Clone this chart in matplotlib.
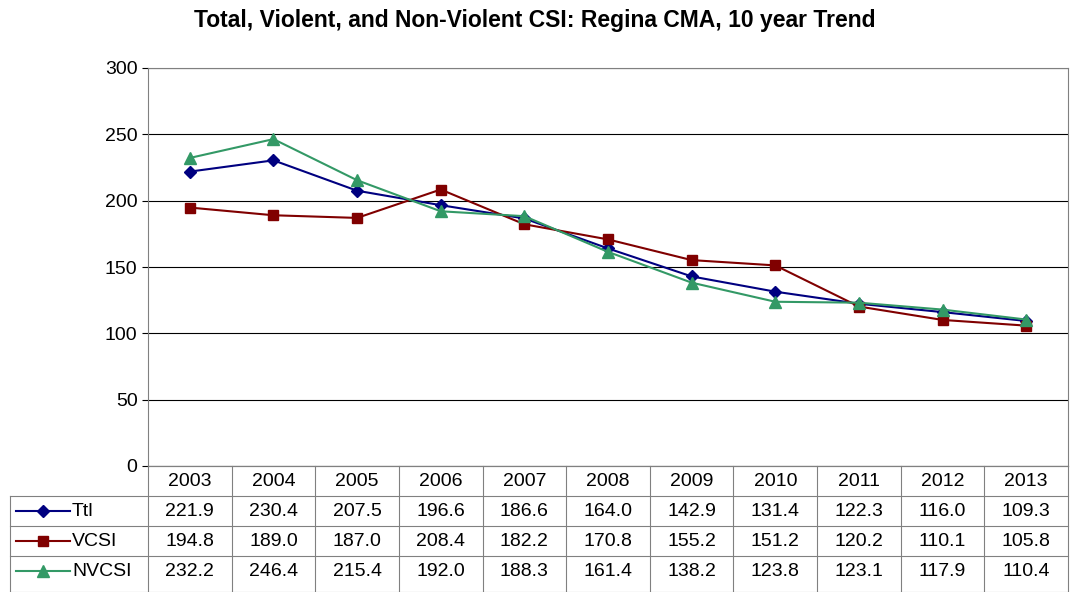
import matplotlib
matplotlib.use("Agg")
import matplotlib.pyplot as plt
from matplotlib.lines import Line2D

years = ["2003","2004","2005","2006","2007","2008","2009","2010","2011","2012","2013"]
ttl = [221.9,230.4,207.5,196.6,186.6,164.0,142.9,131.4,122.3,116.0,109.3]
vcsi = [194.8,189.0,187.0,208.4,182.2,170.8,155.2,151.2,120.2,110.1,105.8]
nvcsi = [232.2,246.4,215.4,192.0,188.3,161.4,138.2,123.8,123.1,117.9,110.4]
names = ["Ttl","VCSI","NVCSI"]
colors = ["#000080","#800000","#339966"]
markers = ["D","s","^"]
sizes = [6,7,8]

W,H = 1070,592
fig = plt.figure(figsize=(W/100,H/100),dpi=100)
plt.rcParams['font.family'] = ['Liberation Sans','DejaVu Sans']
L,R,T,B = 148,1068,68,466
ax = fig.add_axes([L/W,1-B/H,(R-L)/W,(B-T)/H])
x = list(range(len(years)))
for s,c,m,ms in zip([ttl,vcsi,nvcsi],colors,markers,sizes):
    ax.plot(x,s,color=c,marker=m,markersize=ms,lw=1.5)
ax.set_xlim(-0.5,10.5); ax.set_ylim(0,300)
ax.set_yticks(range(0,301,50))
ax.yaxis.grid(True,color='black',lw=0.8)
ax.set_xticks([])
ax.tick_params(axis='y',labelsize=14,length=4)
for sp in ax.spines.values(): sp.set_color('#808080')
fig.text(0.5,1-21/H,"Total, Violent, and Non-Violent CSI: Regina CMA, 10 year Trend",
         ha='center',va='center',fontsize=16.5,fontweight='bold')

def fx(px): return px/W
def fy(py): return 1-py/H
rows = [466,496,526,556,592]
cw = (R-L)/11
gc = '#808080'
fig.add_artist(Line2D([fx(L),fx(R)],[fy(466)]*2,color=gc,lw=0.8))
for ry in rows[1:]:
    fig.add_artist(Line2D([fx(10),fx(R)],[fy(ry)]*2,color=gc,lw=0.8))
for i in range(12):
    xx = L+i*cw
    fig.add_artist(Line2D([fx(xx)]*2,[fy(466),fy(592)],color=gc,lw=0.8))
fig.add_artist(Line2D([fx(10)]*2,[fy(496),fy(592)],color=gc,lw=0.8))
for i,yv in enumerate(years):
    fig.text(fx(L+(i+0.5)*cw),fy(481),yv,ha='center',va='center',fontsize=14)
for r,(s,n,c,m,ms) in enumerate(zip([ttl,vcsi,nvcsi],names,colors,markers,sizes)):
    cy = fy(511+30*r)
    fig.add_artist(Line2D([fx(16),fx(70)],[cy,cy],color=c,lw=1.5))
    fig.add_artist(Line2D([fx(43)],[cy],color=c,marker=m,markersize=ms))
    fig.text(fx(72),cy,n,ha='left',va='center',fontsize=14)
    for i,v in enumerate(s):
        fig.text(fx(L+(i+0.5)*cw),cy,f"{v:.1f}",ha='center',va='center',fontsize=14)
fig.savefig("out.png",dpi=100)
